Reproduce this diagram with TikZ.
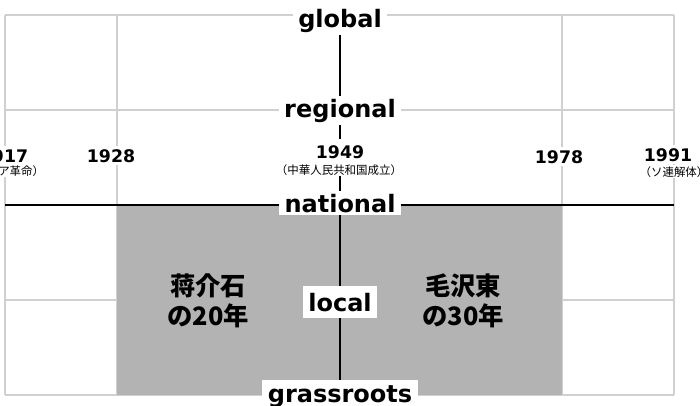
\documentclass[tikz,border=0pt]{standalone}
\usepackage{fontspec}
\setmainfont{DejaVu Sans}
\newfontfamily\jp{Noto Sans CJK JP}
\usetikzlibrary{backgrounds}
\definecolor{gridgray}{HTML}{D0D0D0}
\definecolor{boxgray}{HTML}{B3B3B3}
\tikzset{
  lvl/.style={fill=white, font=\bfseries\fontsize{18}{20}\selectfont, inner xsep=4pt, inner ysep=2pt, anchor=base},
  yr/.style={fill=white, font=\bfseries\fontsize{13}{14}\selectfont, inner sep=2pt, anchor=base},
  sub/.style={fill=white, font=\jp\fontsize{8.6}{10}\selectfont, inner sep=1pt, anchor=base},
  era/.style={font=\jp\bfseries\fontsize{19}{22.5}\selectfont, align=center, inner sep=0pt},
  gridline/.style={draw=gridgray, line width=1.1pt},
  axis/.style={draw=black, line width=1.5pt},
}
\begin{document}
\begin{tikzpicture}[x=0.75pt, y=-0.75pt]
  \useasboundingbox (0,0) rectangle (700,405);
  \path[clip] (0,0) rectangle (700,405);

  % level labels
  \node[lvl] (global) at (340,27) {global};
  \node[lvl] (regional) at (340,117) {regional};
  \node[lvl] (national) at (340,212) {national};
  \node[lvl, inner ysep=5pt] (local) at (340,311) {local};
  \node[lvl, inner ysep=4pt] (grassroots) at (340,402) {grassroots};

  % years
  \node[yr] (y1917) at (4,162) {1917};
  \node[sub] (s1917) at (4,175) {（ロシア革命）};
  \node[yr] (y1928) at (111,162) {1928};
  \node[yr, inner ysep=4.5pt] (y1949) at (340,158) {1949};
  \node[sub] (s1949) at (339,174) {（中華人民共和国成立）};
  \node[yr] (y1978) at (559,163) {1978};
  \node[yr] (y1991) at (668,161) {1991};
  \node[sub] (s1991) at (674,176) {（ソ連解体）};

  % eras
  \node[era] (chiang) at (208,301) {蒋介石\\の20年};
  \node[era] (mao) at (463,301) {毛沢東\\の30年};

  \begin{scope}[on background layer]
    \fill[white] (0,0) rectangle (700,405);
    \foreach \yy in {15,110,300,395} \draw[gridline] (5,\yy) -- (674,\yy);
    \foreach \xx in {5,117,562,674} \draw[gridline] (\xx,15) -- (\xx,395);
    \fill[boxgray] (117,205) rectangle (562,395);
    \draw[axis] (5,205) -- (674,205);
    \draw[axis] (global) -- (grassroots);
  \end{scope}
\end{tikzpicture}
\end{document}
